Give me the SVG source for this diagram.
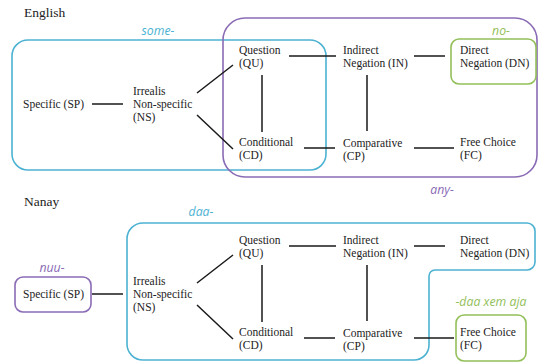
<svg xmlns="http://www.w3.org/2000/svg" width="538" height="362" viewBox="0 0 538 362">
<style>
.t{font-family:'Liberation Serif','Times New Roman',serif;font-size:11.5px;fill:#222}
.h{font-family:'Liberation Serif','Times New Roman',serif;font-size:13.5px;fill:#222}
.lab{font-family:'Open Sans','Liberation Sans',sans-serif;font-style:italic;font-size:12.3px;text-anchor:middle}
.cy{fill:none;stroke:#4cb2d2;stroke-width:1.6}
.pu{fill:none;stroke:#8a6bb5;stroke-width:1.6}
.gr{fill:none;stroke:#93c05a;stroke-width:1.6}
.e{stroke:#1a1a1a;stroke-width:1.5;fill:none}
</style>
<rect width="538" height="362" fill="#fff"/>
<g id="english">
<text class="h" x="24" y="17">English</text>
<rect class="cy" x="12" y="40" width="314" height="130" rx="16"/>
<rect class="pu" x="223" y="18" width="314" height="159" rx="22"/>
<rect class="gr" x="451" y="39" width="85" height="45" rx="8"/>
<text class="lab" x="158" y="35" fill="#4cb2d2">some-</text>
<text class="lab" x="501" y="35" fill="#93c05a">no-</text>
<text class="lab" x="442" y="194" fill="#8a6bb5">any-</text>
</g>
<g id="en-SP"><text class="t" x="23" y="108">Specific (SP)</text></g>
<g id="en-NS"><text class="t" x="133" y="95">Irrealis<tspan x="133" dy="13">Non-specific</tspan><tspan x="133" dy="13">(NS)</tspan></text></g>
<g id="en-QU"><text class="t" x="239" y="54">Question<tspan x="239" dy="13">(QU)</tspan></text></g>
<g id="en-CD"><text class="t" x="239" y="146">Conditional<tspan x="239" dy="13">(CD)</tspan></text></g>
<g id="en-IN"><text class="t" x="343" y="54">Indirect<tspan x="343" dy="13">Negation (IN)</tspan></text></g>
<g id="en-CP"><text class="t" x="343" y="147">Comparative<tspan x="343" dy="13">(CP)</tspan></text></g>
<g id="en-DN"><text class="t" x="460" y="54">Direct<tspan x="460" dy="13">Negation (DN)</tspan></text></g>
<g id="en-FC"><text class="t" x="460" y="146">Free Choice<tspan x="460" dy="13">(FC)</tspan></text></g>
<g id="nanay">
<text class="h" x="24" y="206">Nanay</text>
<path class="cy" d="M143,223 H527 A8,8 0 0 1 535,231 V262 A8,8 0 0 1 527,270 H435 A6,6 0 0 0 429,276 V345 A15,15 0 0 1 414,360 H143 A16,16 0 0 1 127,344 V239 A16,16 0 0 1 143,223 Z"/>
<rect class="pu" x="15" y="277" width="76" height="35" rx="8"/>
<rect class="gr" x="456" y="315" width="70" height="46" rx="8"/>
<text class="lab" x="201" y="216" fill="#4cb2d2">daa-</text>
<text class="lab" x="52" y="272" fill="#8a6bb5">nuu-</text>
<text class="lab" x="491" y="306" fill="#93c05a">-daa xem aja</text>
</g>
<g id="na-SP"><text class="t" x="23" y="298">Specific (SP)</text></g>
<g id="na-NS"><text class="t" x="133" y="285">Irrealis<tspan x="133" dy="13">Non-specific</tspan><tspan x="133" dy="13">(NS)</tspan></text></g>
<g id="na-QU"><text class="t" x="239" y="244">Question<tspan x="239" dy="13">(QU)</tspan></text></g>
<g id="na-CD"><text class="t" x="239" y="336">Conditional<tspan x="239" dy="13">(CD)</tspan></text></g>
<g id="na-IN"><text class="t" x="343" y="244">Indirect<tspan x="343" dy="13">Negation (IN)</tspan></text></g>
<g id="na-CP"><text class="t" x="343" y="337">Comparative<tspan x="343" dy="13">(CP)</tspan></text></g>
<g id="na-DN"><text class="t" x="460" y="244">Direct<tspan x="460" dy="13">Negation (DN)</tspan></text></g>
<g id="na-FC"><text class="t" x="460" y="336">Free Choice<tspan x="460" dy="13">(FC)</tspan></text></g>
<g id="connectors" class="e">
<path class="e" d="M92,104 H123 M197,93 L233,65 M197,115 L233,149 M262,75 V132 M289,56 H336 M414,56 H445 M367,75 V131 M304,148 H335 M414,148 H454"/>
<path class="e" d="M92,294 H123 M197,283 L233,255 M197,305 L233,339 M262,265 V322 M289,246 H336 M414,246 H445 M367,265 V321 M304,338 H335 M414,338 H454"/>
</g>
</svg>
